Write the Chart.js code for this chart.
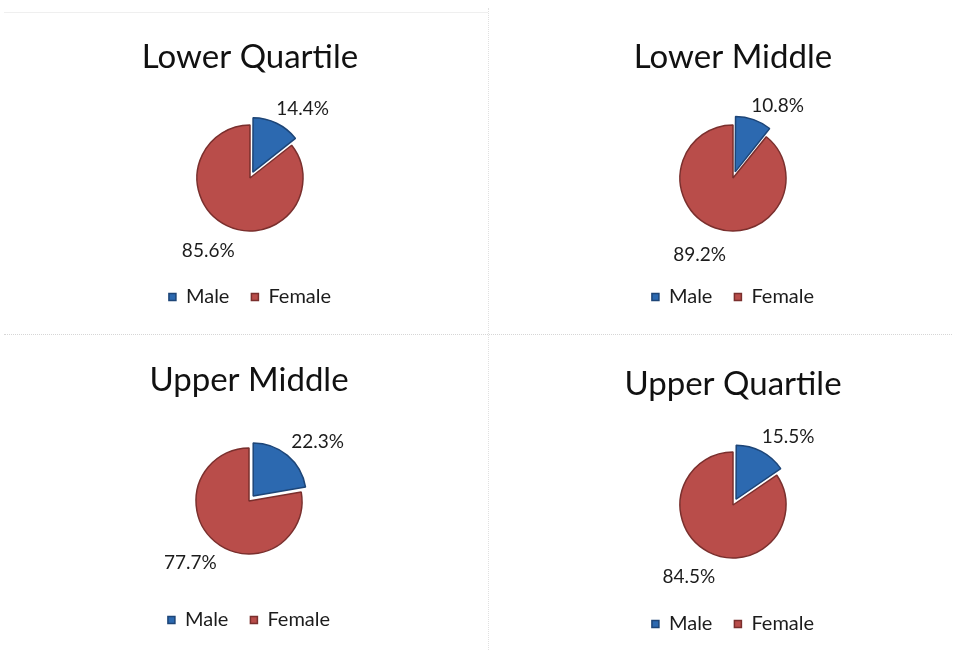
<!DOCTYPE html>
<html><head><meta charset="utf-8">
<script src="https://cdn.jsdelivr.net/npm/chart.js@4.4.0/dist/chart.umd.min.js"></script>
<style>
html,body{margin:0;padding:0;background:#fff;width:956px;height:655px;overflow:hidden;position:relative;font-family:Lato,sans-serif}
.panel{position:absolute;width:440px;height:315px}
.sep{position:absolute}
</style></head><body>
<div class="sep" style="left:4px;top:334px;width:948px;height:0;border-top:1px dotted #d6d6d6"></div>
<div class="sep" style="left:488px;top:8px;width:0;height:642px;border-left:1px dotted #e0e0e0"></div>
<div class="sep" style="left:4px;top:12px;width:484px;height:0;border-top:1px solid #efefef"></div>
<div class="panel" style="left:30px;top:10px"><canvas id="c0" width="440" height="315"></canvas></div>
<div class="panel" style="left:513px;top:10px"><canvas id="c1" width="440" height="315"></canvas></div>
<div class="panel" style="left:29px;top:333px"><canvas id="c2" width="440" height="315"></canvas></div>
<div class="panel" style="left:513px;top:337px"><canvas id="c3" width="440" height="315"></canvas></div>
<script>
const titles = ['Lower Quartile', 'Lower Middle', 'Upper Middle', 'Upper Quartile'];
const categories = ['Male', 'Female'];
const maleShare = [14.4, 10.8, 22.3, 15.5];
const femaleShare = [85.6, 89.2, 77.7, 84.5];

const fillColors = ['#2c69b0', '#b94d4a'];
const edgeColors = ['#1d4577', '#7a2f2d'];

const pctLabels = {
  id: 'pctLabels',
  afterDatasetsDraw(chart) {
    const ctx = chart.ctx;
    const meta = chart.getDatasetMeta(0);
    const ds = chart.data.datasets[0];
    ctx.save();
    ctx.font = '19px Lato';
    ctx.fillStyle = '#1c1c1c';
    ctx.textAlign = 'center';
    ctx.textBaseline = 'middle';
    meta.data.forEach((arc, i) => {
      const p = arc.getProps(['x', 'y', 'startAngle', 'endAngle', 'outerRadius'], true);
      const mid = (p.startAngle + p.endAngle) / 2;
      const v = ds.data[i];
      const txt = v.toFixed(1) + '%';
      const w = ctx.measureText(txt).width;
      const big = v > 50;
      const R = p.outerRadius + (big ? 28 : 24);
      const c = Math.cos(mid), s = Math.sin(mid);
      const x = p.x + c * R + Math.sign(c) * w * (big ? 0.12 : 0.36);
      const y = p.y + s * R;
      ctx.fillText(txt, x, y);
    });
    ctx.restore();
  }
};

titles.forEach((t, k) => {
  new Chart(document.getElementById('c' + k), {
    type: 'pie',
    data: {
      labels: categories,
      datasets: [{
        data: [maleShare[k], femaleShare[k]],
        backgroundColor: fillColors,
        borderColor: edgeColors,
        borderWidth: 1.5,
        offset: [26, 0]
      }]
    },
    options: {
      responsive: false,
      animation: false,
      radius: 53,
      layout: { padding: { top: 0, bottom: 8, left: 0, right: 0 } },
      events: [],
      plugins: {
        tooltip: { enabled: false },
        title: {
          display: true,
          text: t,
          color: '#111',
          font: { family: 'Lato', size: 33, weight: 'normal', lineHeight: 1.2 },
          padding: { top: 27.2, bottom: 14.2 }
        },
        legend: {
          display: true,
          position: 'bottom',
          labels: {
            color: '#1c1c1c',
            font: { family: 'Lato', size: 20 },
            boxWidth: 7,
            boxHeight: 7,
            padding: 22
          }
        }
      }
    },
    plugins: [pctLabels]
  });
});
</script>
</body></html>
